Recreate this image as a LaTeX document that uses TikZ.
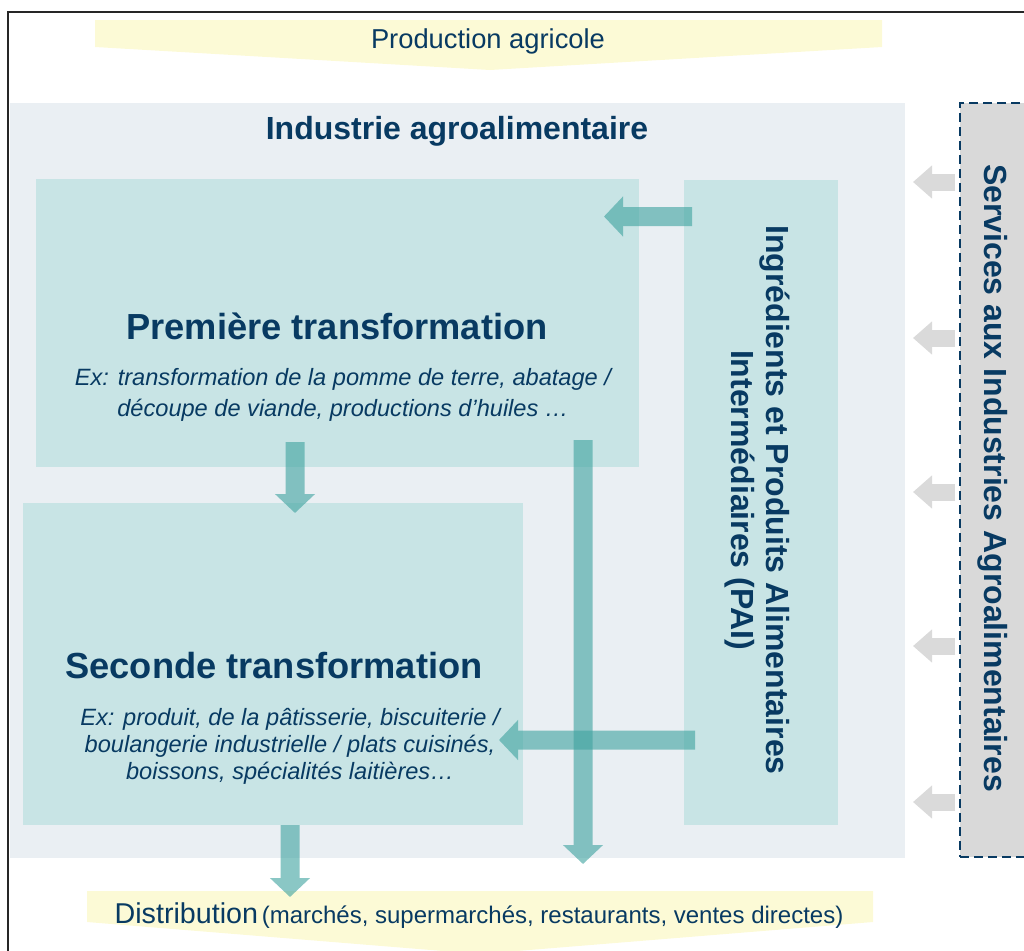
\documentclass[tikz,border=0pt]{standalone}
\usepackage{fontspec}
\setmainfont{Liberation Sans}
\usetikzlibrary{positioning,arrows.meta}

\definecolor{navy}{RGB}{8,58,98}
\definecolor{iaabg}{RGB}{234,239,243}
\definecolor{boxteal}{RGB}{200,228,229}
\definecolor{flowteal}{RGB}{66,164,161}
\definecolor{bannery}{RGB}{252,250,214}
\definecolor{servgray}{RGB}{217,217,217}
\definecolor{hintgray}{RGB}{218,218,218}

\begin{document}
\begin{tikzpicture}[x=0.75pt, y=-0.75pt,
    block/.style={rectangle, inner sep=0pt, fill=boxteal},
    flow/.style={line width=14.25pt, draw=flowteal, -{Triangle[width=29.25pt, length=14.25pt]}},
    hint/.style={line width=12.75pt, draw=hintgray, -{Triangle[width=24pt, length=14.25pt]}},
    title/.style={font=\bfseries\fontsize{27.2}{32}\selectfont, text=navy},
    example/.style={font=\itshape\fontsize{17.7}{23.25}\selectfont, text=navy, align=center}]
    \useasboundingbox (0,0) rectangle (1024,950);

    % Frame and banners
    \draw[line width=2pt, draw=black!85] (1100,12) -- (8,12) -- (8,1000);
    \fill[bannery] (95,20) -- (882,20) -- (882,47) -- (490,70) -- (95,47) -- cycle;
    \node[font=\fontsize{20.5}{24}\selectfont, text=navy] (prod) at (488,41) {Production agricole};
    \fill[bannery] (87,891) -- (873,891) -- (873,922) -- (480,954) -- (87,922) -- cycle;
    \node[text=navy] (distrib) at (479,916)
        {{\fontsize{21.5}{24}\selectfont Distribution} {\fontsize{18}{22}\selectfont (marchés, supermarchés, restaurants, ventes directes)}};

    % Components
    \node[block, fill=iaabg, minimum width=671.25pt, minimum height=566.25pt] (iaa) at (457.5,480.5) {};
    \node[font=\bfseries\fontsize{24}{28}\selectfont, text=navy] (iaatitle) at (457,131) {Industrie agroalimentaire};
    \node[block, minimum width=452.25pt, minimum height=216pt] (premiere) at (337.5,323) {};
    \node[block, minimum width=375pt, minimum height=241.5pt] (seconde) at (273,664) {};
    \node[block, minimum width=115.5pt, minimum height=483.75pt] (pai) at (761,502.5) {};
    \node[rectangle, inner sep=0pt, fill=servgray, draw=navy, line width=1.8pt, dash pattern=on 6.5pt off 4pt,
        minimum width=60pt, minimum height=565.5pt] (services) at (1000,480) {};

    % Texts
    \node[title] (premtitle) at (337,326) {Première transformation};
    \node[example] (premex) at (343,395)
        {Ex: transformation de la pomme de terre, abatage /\\découpe de viande, productions d’huiles …};
    \node[title] (sectitle) at (274,666) {Seconde transformation};
    \node[example, font=\itshape\fontsize{17.7}{20.25}\selectfont] (secex) at (290,746)
        {Ex: produit, de la pâtisserie, biscuiterie /\\boulangerie industrielle / plats cuisinés,\\boissons, spécialités laitières…};
    \node[rotate=-90, align=center, font=\bfseries\fontsize{24}{26.25}\selectfont, text=navy] (paitext) at (757,500)
        {Ingrédients et Produits Alimentaires\\Intermédiaires (PAI)};
    \node[rotate=-90, font=\bfseries\fontsize{24}{28}\selectfont, text=navy] (servtext) at (993,478)
        {Services aux Industries Agroalimentaires};

    % Services feeding the industry
    \foreach \y [count=\i] in {182,338,492,646,802} {
        \coordinate (srv\i) at (955,\y);
        \coordinate (iaa\i) at (913,\y);
        \draw[hint] (srv\i) -- (iaa\i);
    }

    % Product flows
    \coordinate (pai1) at (692,216.5);
    \coordinate (prem1) at (604,216.5);
    \coordinate (prem2) at (295,442);
    \coordinate (sec2) at (295,513);
    \coordinate (prem3) at (583,440);
    \coordinate (out3) at (583,864);
    \coordinate (pai4) at (695,740);
    \coordinate (sec4) at (499,740);
    \coordinate (sec5) at (290,825);
    \coordinate (out5) at (290,897);
    \foreach \a/\b in {pai1/prem1, prem2/sec2, prem3/out3, pai4/sec4, sec5/out5} {
        \begin{scope}[transparency group, opacity=0.62]
            \draw[flow] (\a) -- (\b);
        \end{scope}
    }
\end{tikzpicture}
\end{document}
